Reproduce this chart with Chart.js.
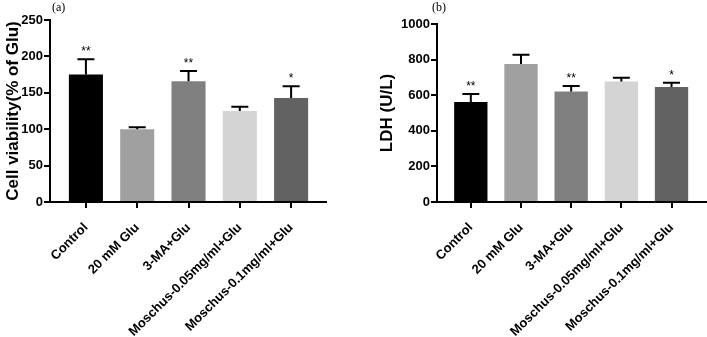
<!DOCTYPE html>
<html>
<head>
<meta charset="utf-8">
<script src="https://cdn.jsdelivr.net/npm/chart.js@4.4.1/dist/chart.umd.min.js"></script>
<style>
  body { margin: 0; background: #fff; }
  #wrap { position: relative; width: 707px; height: 337px; overflow: hidden; }
  canvas { position: absolute; top: 0; }
  #ca { left: 0; }
  #cb { left: 365px; }
</style>
</head>
<body>
<div id="wrap">
  <canvas id="ca" width="345" height="337"></canvas>
  <canvas id="cb" width="342" height="337"></canvas>
</div>
<script>
// groups, same for both panels
const categories = ['Control', '20 mM Glu', '3-MA+Glu', 'Moschus-0.05mg/ml+Glu', 'Moschus-0.1mg/ml+Glu'];
const barColors = ['#000000', '#a0a0a0', '#808080', '#d4d4d4', '#626262'];

// (a) cell viability
const viability = [175, 100, 166, 125, 143];
const viabilityErr = [21, 2.6, 14, 6, 16];
const viabilityStars = ['**', '', '**', '', '*'];
const viabilityTicks = [0, 50, 100, 150, 200, 250];

// (b) LDH
const ldh = [562, 775, 621, 677, 646];
const ldhErr = [45, 52, 31, 21, 24];
const ldhStars = ['**', '', '**', '', '*'];
const ldhTicks = [0, 200, 400, 600, 800, 1000];

const FONT = "'Liberation Sans', Arial, sans-serif";

// error bars + significance stars + panel letter
const extras = {
  id: 'extras',
  afterDatasetsDraw(chart, args, opts) {
    const ctx = chart.ctx;
    const xs = chart.scales.x, ys = chart.scales.y;
    ctx.save();
    ctx.strokeStyle = '#000';
    ctx.lineWidth = 2;
    opts.values.forEach((v, i) => {
      const x = xs.getPixelForValue(i);
      const yb = ys.getPixelForValue(v);
      const yt = ys.getPixelForValue(v + opts.errors[i]);
      ctx.beginPath();
      ctx.moveTo(x, yb);
      ctx.lineTo(x, yt);
      ctx.moveTo(x - 8.5, yt);
      ctx.lineTo(x + 8.5, yt);
      ctx.stroke();
      if (opts.stars[i]) {
        ctx.fillStyle = '#000';
        ctx.font = '12px ' + FONT;
        ctx.textAlign = 'center';
        ctx.textBaseline = 'alphabetic';
        ctx.fillText(opts.stars[i], x, yt - 4);
      }
    });
    ctx.fillStyle = '#000';
    ctx.font = "12px 'Liberation Serif', 'Times New Roman', serif";
    ctx.textAlign = 'left';
    ctx.textBaseline = 'middle';
    ctx.fillText(opts.letter, chart.chartArea.left + opts.letterDx, 8);
    ctx.restore();
  }
};

function makeChart(id, values, errors, stars, ticks, title, cfg) {
  return new Chart(document.getElementById(id), {
    type: 'bar',
    data: {
      datasets: [{
        data: values.map((v, i) => ({ x: i, y: v })),
        backgroundColor: barColors,
        borderWidth: 0,
        categoryPercentage: 1,
        barPercentage: 0.664
      }]
    },
    options: {
      responsive: false,
      animation: false,
      devicePixelRatio: 1,
      layout: { padding: { top: cfg.top, right: cfg.right, bottom: 0, left: 0 } },
      plugins: {
        legend: { display: false },
        tooltip: { enabled: false },
        extras: { values, errors, stars, letter: cfg.letter, letterDx: cfg.letterDx }
      },
      scales: {
        x: {
          type: 'linear',
          offset: false,
          min: cfg.xmin,
          max: cfg.xmax,
          afterBuildTicks: s => { s.ticks = categories.map((c, i) => ({ value: i })); },
          afterFit: s => { s.height = 135; },
          border: { color: '#000', width: 2 },
          grid: { offset: false, drawOnChartArea: false, color: '#000', lineWidth: 2, tickLength: 6 },
          ticks: {
            autoSkip: false,
            minRotation: 45,
            maxRotation: 45,
            padding: 12,
            color: '#000',
            font: { family: FONT, size: 13, weight: 'bold' },
            callback: v => categories[v]
          }
        },
        y: {
          min: ticks[0],
          max: ticks[ticks.length - 1],
          afterBuildTicks: s => { s.ticks = ticks.map(t => ({ value: t })); },
          afterFit: s => { s.width = cfg.yw; },
          border: { color: '#000', width: 2 },
          grid: { drawOnChartArea: false, color: '#000', lineWidth: 2, tickLength: 6 },
          ticks: {
            padding: 1,
            color: '#000',
            font: { family: FONT, size: 13, weight: 'bold' },
            callback: v => String(v)
          },
          title: {
            display: true,
            text: title,
            color: '#000',
            padding: { top: cfg.tpad, bottom: 0 },
            font: { family: FONT, size: 17, weight: 'bold' }
          }
        }
      }
    },
    plugins: [extras]
  });
}

makeChart('ca', viability, viabilityErr, viabilityStars, viabilityTicks, 'Cell viability(% of Glu)',
  { top: 20, right: 19, yw: 50, tpad: 3, xmin: -0.70, xmax: 4.68, letter: '(a)', letterDx: 2 });
makeChart('cb', ldh, ldhErr, ldhStars, ldhTicks, 'LDH (U/L)',
  { top: 24, right: 0, yw: 72, tpad: 12, xmin: -0.674, xmax: 4.707, letter: '(b)', letterDx: -5 });
</script>
</body>
</html>
